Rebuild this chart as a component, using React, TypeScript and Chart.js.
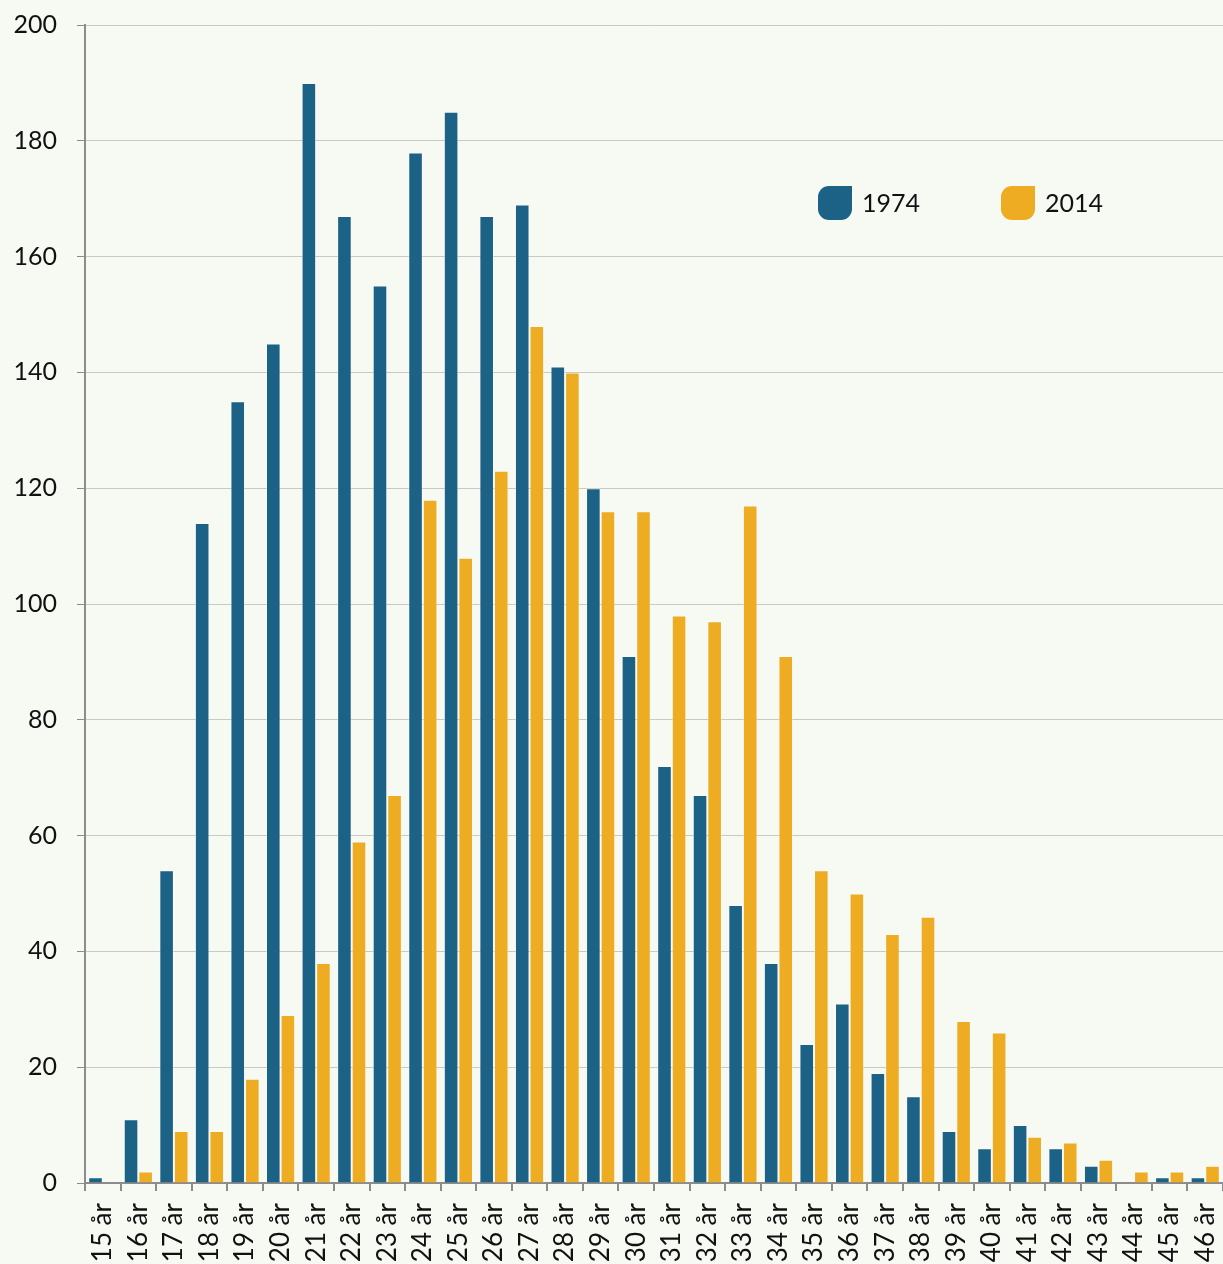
import React, { useEffect, useRef } from "react";
import { Chart, registerables } from "chart.js";

Chart.register(...registerables);

const categories = [
  "15 år", "16 år", "17 år", "18 år", "19 år", "20 år", "21 år", "22 år",
  "23 år", "24 år", "25 år", "26 år", "27 år", "28 år", "29 år", "30 år",
  "31 år", "32 år", "33 år", "34 år", "35 år", "36 år", "37 år", "38 år",
  "39 år", "40 år", "41 år", "42 år", "43 år", "44 år", "45 år", "46 år",
];

const values1974 = [
  1, 11, 54, 114, 135, 145, 190, 167, 155, 178, 185, 167, 169, 141, 120, 91,
  72, 67, 48, 38, 24, 31, 19, 15, 9, 6, 10, 6, 3, 0, 1, 1,
];

const values2014 = [
  0, 2, 9, 9, 18, 29, 38, 59, 67, 118, 108, 123, 148, 140, 116, 116,
  98, 97, 117, 91, 54, 50, 43, 46, 28, 26, 8, 7, 4, 2, 2, 3,
];

const seriesNames = ["1974", "2014"];
const yTicks = [0, 20, 40, 60, 80, 100, 120, 140, 160, 180, 200];

const BLUE = "#1c6186";
const ORANGE = "#edac22";
const BG = "#f7f9f3";
const FONT = "Lato, 'Noto Sans', sans-serif";

export default function App() {
  const ref = useRef<HTMLCanvasElement | null>(null);

  useEffect(() => {
    if (!ref.current) return;

    const bgPlugin = {
      id: "bg",
      beforeDraw(chart: any) {
        const { ctx, width, height } = chart;
        ctx.save();
        ctx.fillStyle = BG;
        ctx.fillRect(0, 0, width, height);
        ctx.restore();
      },
    };

    const legendPlugin = {
      id: "leafLegend",
      afterDraw(chart: any) {
        const { ctx } = chart;
        const items = [
          { label: seriesNames[0], color: BLUE, x: 818, y: 186 },
          { label: seriesNames[1], color: ORANGE, x: 1001, y: 186 },
        ];
        ctx.save();
        for (const it of items) {
          const s = 34;
          const r = 11;
          ctx.fillStyle = it.color;
          ctx.beginPath();
          (ctx as any).roundRect(it.x, it.y, s, s, [r, 0, r, r]);
          ctx.fill();
          ctx.fillStyle = "#111111";
          ctx.font = `25px ${FONT}`;
          ctx.textBaseline = "middle";
          ctx.textAlign = "left";
          ctx.fillText(it.label, it.x + s + 10, it.y + s / 2 + 1);
        }
        ctx.restore();
      },
    };

    const chart = new Chart(ref.current, {
      type: "bar",
      data: {
        labels: categories,
        datasets: [
          {
            label: seriesNames[0],
            data: values1974,
            backgroundColor: BLUE,
            borderColor: "rgba(255,255,255,0.35)",
            borderWidth: 1,
            barPercentage: 1,
            categoryPercentage: 0.82,
          },
          {
            label: seriesNames[1],
            data: values2014,
            backgroundColor: ORANGE,
            borderColor: "rgba(255,255,255,0.35)",
            borderWidth: 1,
            barPercentage: 1,
            categoryPercentage: 0.82,
          },
        ],
      },
      options: {
        responsive: false,
        animation: false,
        maintainAspectRatio: false,
        layout: { padding: { top: 25, right: 0, left: 0, bottom: 0 } },
        plugins: {
          legend: { display: false },
          tooltip: { enabled: false },
        },
        scales: {
          x: {
            offset: true,
            grid: {
              offset: true,
              drawOnChartArea: false,
              drawTicks: true,
              tickLength: 8,
              color: "#8c8c8c",
              lineWidth: 2,
            },
            border: { color: "#8c8c8c", width: 2 },
            ticks: {
              minRotation: 90,
              maxRotation: 90,
              autoSkip: false,
              padding: 12,
              color: "#111111",
              font: { family: FONT, size: 26 },
            },
            afterFit(scale: any) {
              scale.height = 81;
              scale.paddingLeft = 0;
              scale.paddingRight = 0;
            },
          },
          y: {
            min: 0,
            max: 200,
            afterBuildTicks(scale: any) {
              scale.ticks = yTicks.map((v) => ({ value: v }));
            },
            grid: {
              color: "#c8c8c4",
              lineWidth: 1,
              drawTicks: true,
              tickLength: 8,
              tickColor: "#8c8c8c",
            },
            border: { color: "#8c8c8c", width: 2 },
            ticks: {
              padding: 20,
              color: "#111111",
              font: { family: FONT, size: 25 },
            },
            afterFit(scale: any) {
              scale.width = 85;
              scale.paddingTop = 0;
              scale.paddingBottom = 0;
            },
          },
        },
      },
      plugins: [bgPlugin, legendPlugin],
    });

    return () => chart.destroy();
  }, []);

  return (
    <div
      style={{
        position: "absolute",
        left: 0,
        top: 0,
        width: 1223,
        height: 1264,
        background: BG,
      }}
    >
      <canvas ref={ref} width={1223} height={1264} style={{ display: "block" }} />
    </div>
  );
}
